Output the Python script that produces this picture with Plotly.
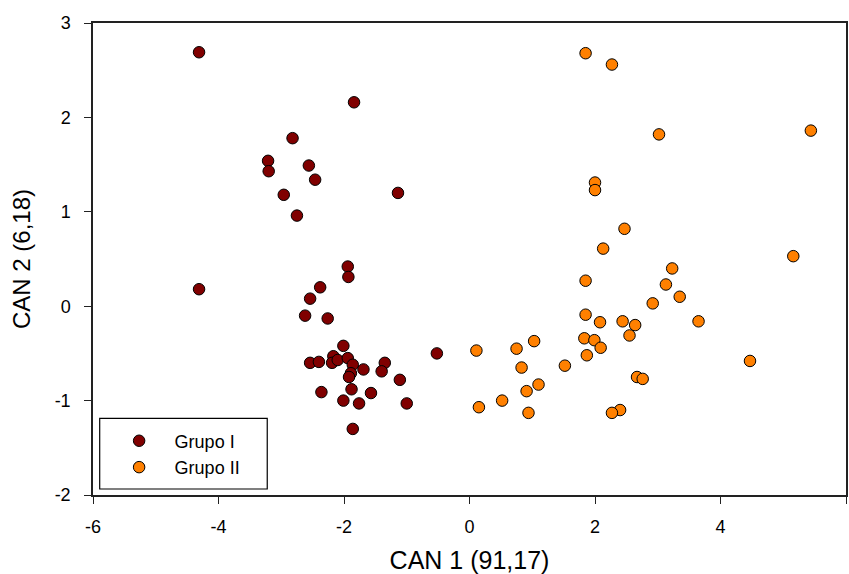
import plotly.graph_objects as go

# Group I (dark red)
g1_x = [-4.31, -1.84, -2.82, -3.21, -3.20, -2.56, -2.46, -2.96, -1.14, -2.75,
        -1.94, -1.93, -2.38, -2.54, -4.31, -2.62, -2.26, -2.01, -2.17, -2.54,
        -2.40, -2.19, -2.10, -1.94, -1.86, -1.69, -1.35, -1.40, -1.89, -1.92,
        -1.11, -2.36, -1.88, -1.57, -2.01, -1.76, -1.00, -1.86, -0.52]
g1_y = [2.69, 2.16, 1.78, 1.54, 1.43, 1.49, 1.34, 1.18, 1.20, 0.96,
        0.42, 0.31, 0.20, 0.08, 0.18, -0.10, -0.13, -0.42, -0.53, -0.60,
        -0.59, -0.60, -0.57, -0.55, -0.62, -0.67, -0.60, -0.69, -0.71, -0.75,
        -0.78, -0.91, -0.88, -0.92, -1.00, -1.03, -1.03, -1.30, -0.50]

# Group II (orange)
g2_x = [1.85, 2.27, 3.02, 5.44, 2.00, 2.00, 2.47, 2.13, 5.16, 3.23,
        1.85, 3.13, 3.35, 2.92, 1.85, 2.08, 2.44, 2.64, 3.65, 2.55,
        1.83, 1.99, 2.09, 1.87, 0.11, 0.75, 1.03, 0.83, 1.52, 4.47,
        1.10, 0.91, 2.67, 2.76, 0.15, 0.52, 0.94, 2.40, 2.27]
g2_y = [2.68, 2.56, 1.82, 1.86, 1.31, 1.23, 0.82, 0.61, 0.53, 0.40,
        0.27, 0.23, 0.10, 0.03, -0.09, -0.17, -0.16, -0.20, -0.16, -0.31,
        -0.34, -0.36, -0.44, -0.52, -0.47, -0.45, -0.37, -0.65, -0.63, -0.58,
        -0.83, -0.90, -0.75, -0.77, -1.07, -1.00, -1.13, -1.10, -1.13]

x_ticks = [-6, -4, -2, 0, 2, 4, 6]
x_ticklabels = ["-6", "-4", "-2", "0", "2", "4", "6"]
y_ticks = [-2, -1, 0, 1, 2, 3]
y_ticklabels = ["-2", "-1", "0", "1", "2", "3"]

series_names = ["Grupo I", "Grupo II"]
series_colors = ["#800000", "#FF8000"]

FONT = "Liberation Sans, Arial, sans-serif"

fig = go.Figure()
for name, xs, ys, col in zip(series_names, [g1_x, g2_x], [g1_y, g2_y], series_colors):
    fig.add_trace(go.Scatter(
        x=xs, y=ys, mode="markers", name=name,
        marker=dict(size=11.5, color=col, line=dict(color="black", width=1)),
    ))

axis_common = dict(
    showgrid=False, zeroline=False, showline=True, mirror=True,
    linecolor="#222", linewidth=1.5, ticks="outside", ticklen=7,
    tickcolor="#222", tickwidth=1.2,
    tickfont=dict(family=FONT, size=18, color="black"),
)

fig.update_layout(
    width=849, height=574,
    margin=dict(l=93, r=1, t=23, b=79),
    paper_bgcolor="white", plot_bgcolor="white",
    font=dict(family=FONT, color="black"),
    xaxis=dict(range=[-6, 6], tickvals=x_ticks, ticktext=x_ticklabels,
               ticklabelstandoff=8,
               title=dict(text="CAN 1 (91,17)", font=dict(family=FONT, size=25), standoff=16),
               **axis_common),
    yaxis=dict(range=[-2, 3], tickvals=y_ticks, ticktext=y_ticklabels,
               ticklabelstandoff=10,
               title=dict(text="CAN 2 (6,18)", font=dict(family=FONT, size=24), standoff=17),
               **axis_common),
    legend=dict(x=0.0141, y=0.1535, xanchor="left", yanchor="top",
                bgcolor="rgba(0,0,0,0)", borderwidth=0,
                font=dict(family=FONT, size=18), itemwidth=61,
                tracegroupgap=0),
    shapes=[dict(type="rect", xref="paper", yref="paper",
                 x0=0.0089, x1=0.2314, y0=0.0127, y1=0.1625,
                 line=dict(color="black", width=1.2), fillcolor="rgba(0,0,0,0)")],
)

fig.write_html("out.html")
